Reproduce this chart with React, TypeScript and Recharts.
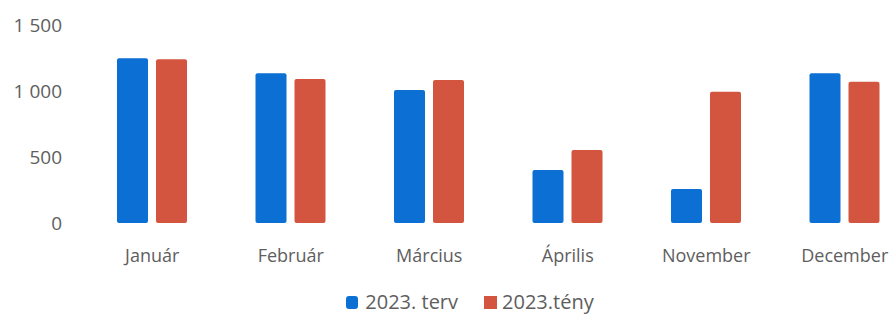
import { BarChart, Bar, XAxis, YAxis, Legend } from 'recharts';

const months = ['Január', 'Február', 'Március', 'Április', 'November', 'December'];
const terv = [1248, 1134, 1008, 402, 258, 1134];
const teny = [1240, 1091, 1083, 553, 995, 1070];
const yTicks = [0, 500, 1000, 1500];

const data = months.map((m, i) => ({
    month: m,
    terv: terv[i],
    teny: teny[i],
}));

const COLORS = {
    terv: '#0b6fd3',
    teny: '#d4553f',
    text: '#5e5e5e',
};

const FONT = '"Open Sans", "Noto Sans", sans-serif';

const fmt = (v: number) => (v >= 1000 ? `${Math.floor(v / 1000)} ${String(v % 1000).padStart(3, '0')}` : `${v}`);

const LegendContent = () => (
    <div style={{ display: 'flex', justifyContent: 'center', alignItems: 'center', gap: 26, paddingLeft: 26, fontFamily: FONT, fontSize: 20, color: COLORS.text, lineHeight: '24px' }}>
        <span style={{ display: 'flex', alignItems: 'center', gap: 7 }}>
            <span style={{ width: 12, height: 13, background: COLORS.terv, borderRadius: 3 }} />
            2023. terv
        </span>
        <span style={{ display: 'flex', alignItems: 'center', gap: 5 }}>
            <span style={{ width: 13, height: 13, background: COLORS.teny }} />
            2023.tény
        </span>
    </div>
);

// fixed to the viewport so the page never scrolls; the chart runs past the right edge like the reference
const App = () => (
    <div style={{ position: 'fixed', left: 0, top: 0, width: 895, height: 314, overflow: 'hidden', background: '#fff' }}>
        <BarChart
            width={918}
            height={314}
            data={data}
            margin={{ top: 25, right: 4, left: 0, bottom: 0 }}
            barSize={31}
            barGap={8}
        >
            <XAxis
                dataKey="month"
                axisLine={false}
                tickLine={false}
                tickMargin={20}
                height={67}
                tick={{ fill: COLORS.text, fontSize: 18, fontFamily: FONT }}
                interval={0}
            />
            <YAxis
                width={83}
                domain={[0, 1500]}
                ticks={yTicks}
                axisLine={false}
                tickLine={false}
                tickMargin={15}
                tickFormatter={fmt}
                tick={{ fill: COLORS.text, fontSize: 19, fontFamily: FONT }}
            />
            <Legend verticalAlign="bottom" wrapperStyle={{ bottom: 0 }} content={<LegendContent />} />
            <Bar dataKey="terv" fill={COLORS.terv} radius={[2, 2, 2, 2]} isAnimationActive={false} />
            <Bar dataKey="teny" fill={COLORS.teny} radius={[2, 2, 2, 2]} isAnimationActive={false} />
        </BarChart>
    </div>
);

export default App;
